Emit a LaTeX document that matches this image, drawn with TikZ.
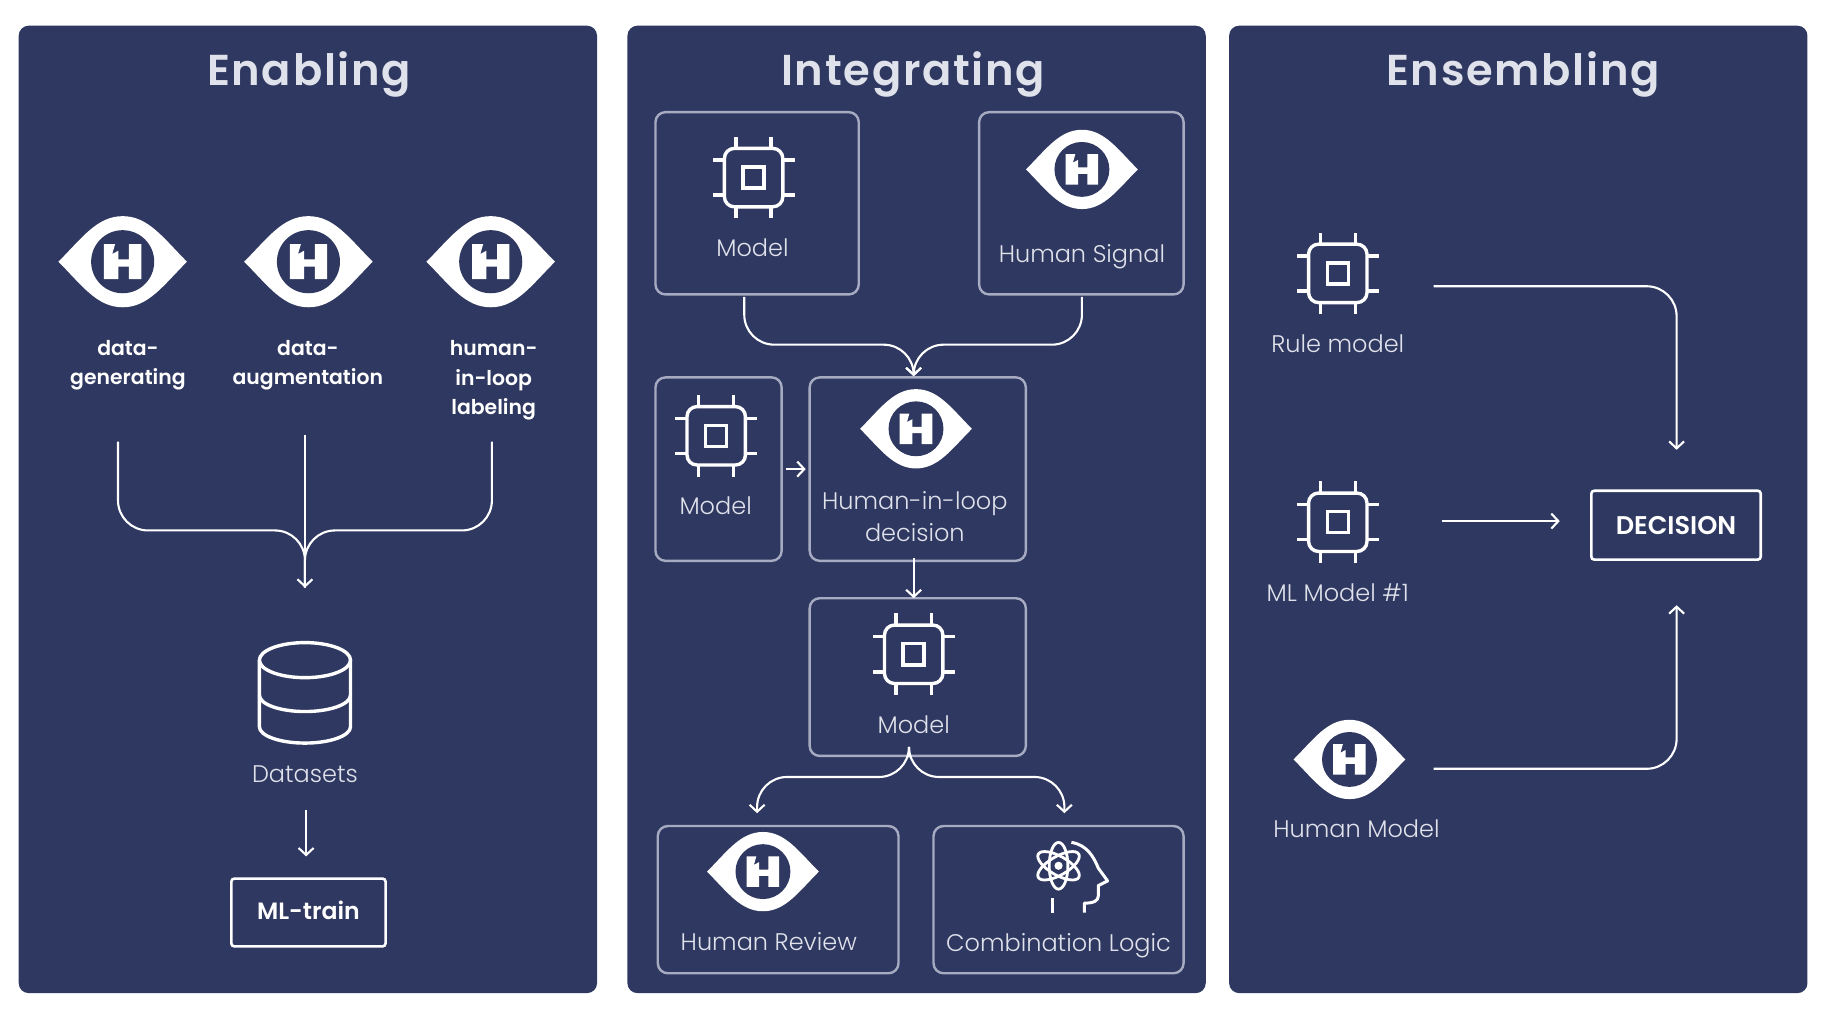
\documentclass[tikz,border=0pt]{standalone}
\usepackage{fontspec}
\usetikzlibrary{arrows.meta}
\setmainfont{Poppins Light}
\newfontfamily\titlefont[LetterSpace=4]{Poppins SemiBold}
\newfontfamily\boldfont{Poppins SemiBold}
\definecolor{panelblue}{HTML}{2F3860}
\definecolor{boxgray}{HTML}{A6ABC1}
\definecolor{labelgray}{HTML}{E0E2EB}
\def\u{0.5842pt}
\tikzset{
  panel/.style={fill=panelblue, rounded corners=5pt, minimum width=495*\u, minimum height=828*\u, inner sep=0, outer sep=0},
  heading/.style={text=labelgray, font=\titlefont\fontsize{21.6}{26}\selectfont},
  modelbox/.style={draw=boxgray, line width=1.2pt, rounded corners=5pt, inner sep=0, outer sep=0},
  whitebox/.style={draw=white, line width=1.3pt, rounded corners=1.5pt, inner sep=0, outer sep=0, text=white},
  label/.style={text=labelgray, font=\fontsize{12}{16}\selectfont, align=center, inner sep=0},
  boldlabel/.style={text=white, font=\boldfont\fontsize{10.2}{14.6}\selectfont, align=center, inner sep=0},
  flow/.style={draw=white, line width=1.05pt, rounded corners=15pt, >={Straight Barb[length=3.5pt,width=7.5pt]}},
  iconline/.style={white, line width=1.7pt},
  eyeicon/.pic={
    \fill[white] (-55,0) .. controls (-35,-20) and (-22,-39) .. (0,-39)
      .. controls (22,-39) and (35,-20) .. (55,0)
      .. controls (35,20) and (22,39) .. (0,39)
      .. controls (-22,39) and (-35,20) .. (-55,0) -- cycle;
    \fill[panelblue] (0,0) circle (27);
    \fill[white] (-16,-15) -- (-6.5,-15) -- (-8.9,-6.6) -- (-3.7,-9.4) -- (-3.7,-2) -- (5.4,-2)
      -- (5.4,-15) -- (16,-15) -- (16,15) -- (5.4,15) -- (5.4,4.3) -- (-3.7,4.3)
      -- (-3.7,15) -- (-16,15) -- cycle;
  },
  chipicon/.pic={
    \draw[iconline, rounded corners=5pt] (-25,-25) rectangle (25,25);
    \draw[iconline] (-9,-9) rectangle (9,9);
    \foreach \p in {-15, 15}{
      \draw[iconline] (\p, -25) -- (\p, -35);
      \draw[iconline] (\p, 25) -- (\p, 35);
      \draw[iconline] (-25, \p) -- (-35, \p);
      \draw[iconline] (25, \p) -- (35, \p);
    };
  },
}
\begin{document}
\begin{tikzpicture}[x=\u, y=-\u]
  \useasboundingbox (0,0) rectangle (1568,871.3);
  % panels
  \node[panel] (enabling) at (263.5,436) {};
  \node[panel] (integrating) at (784.5,436) {};
  \node[panel] (ensembling) at (1299.5,436) {};
  \node[heading] (enablingtitle) at (264.5,64) {Enabling};
  \node[heading] (integratingtitle) at (781.5,64) {Integrating};
  \node[heading] (ensemblingtitle) at (1303.5,64) {Ensembling};

  % left panel
  \foreach \x in {105, 264, 420}
  \pic at (\x,224) {eyeicon};
  \node[boldlabel] (datagen) at (109.5,312.5) {data-\\generating};
  \node[boldlabel] (dataaug) at (263.5,312.5) {data-\\augmentation};
  \node[boldlabel] (humanloop) at (422.5,325.5) {human-\\in-loop\\labeling};
  \coordinate (genout) at (101,378);
  \coordinate (augout) at (261,372);
  \coordinate (loopout) at (421,378);
  \coordinate (joinpt) at (261,454);
  \coordinate (dsin) at (261,503);
  \draw[flow] (genout) |- (joinpt) -- (dsin);
  \draw[flow] (loopout) |- (joinpt) -- (dsin);
  \draw[flow, ->] (augout) -- (dsin);
  \begin{scope}[shift={(261,592)}]
    \draw[iconline] (-39,-27) arc (180:360:39 and -15) arc (0:180:39 and -15);
    \draw[iconline] (-39,-27) -- (-39,30) arc (180:360:39 and -14) -- (39,-27);
    \draw[iconline] (-39,3) arc (180:360:39 and -14);
  \end{scope}
  \node[label] (datasets) at (261,663) {Datasets};
  \node[whitebox, minimum width=132*\u, minimum height=58*\u, text depth=2.4pt, font=\boldfont\fontsize{11.8}{14}\selectfont] (mltrain) at (264,781) {ML-train};
  \coordinate (dsout) at (262,693);
  \draw[flow, ->] (dsout) -- ([xshift=-2*\u, yshift=19*\u]mltrain.north);

  % middle panel
  \node[modelbox, minimum width=174*\u, minimum height=156*\u] (modela) at (648,174) {};
  \node[modelbox, minimum width=175*\u, minimum height=156*\u] (signal) at (925.5,174) {};
  \node[modelbox, minimum width=108*\u, minimum height=157*\u] (modelb) at (615,401.5) {};
  \node[modelbox, minimum width=185*\u, minimum height=157*\u] (loopbox) at (785.5,401.5) {};
  \node[modelbox, minimum width=185*\u, minimum height=135*\u] (modelc) at (785.5,579.5) {};
  \node[modelbox, minimum width=206*\u, minimum height=126*\u] (review) at (666,770) {};
  \node[modelbox, minimum width=214*\u, minimum height=126*\u] (combo) at (906,770) {};
  \pic at (645,152) {chipicon};
  \pic[scale=.87] at (926,145) {eyeicon};
  \pic at (613,373) {chipicon};
  \pic[scale=.87] at (784,367) {eyeicon};
  \pic at (782,560) {chipicon};
  \pic[scale=.87] at (653,746) {eyeicon};
  \node[label] (modelalabel) at (644,212) {Model};
  \node[label] (signallabel) at (926,220) {Human Signal};
  \node[label] (modelblabel) at (612.5,433) {Model};
  \node[label] (looplabel) at (783,442) {Human-in-loop\\decision};
  \node[label] (modelclabel) at (782,620) {Model};
  \node[label] (reviewlabel) at (658,806) {Human Review};
  \node[label] (combolabel) at (906,809) {Combination Logic};
  % head with atom
  \foreach \a in {90, 30, -30}
  \draw[white, line width=1.4pt, rotate around={\a:(906,741)}] (906,741) ellipse (20 and 8);
  \fill[white] (906,741) circle (3.5);
  \draw[white, line width=1.5pt, line join=round] (917,721) .. controls (930,723) and (936,733) .. (940,743)
    -- (948,754) -- (940,758) -- (940,767) .. controls (940,771) and (936,773) .. (928,773) -- (928,781);
  \draw[white, line width=1.5pt] (901,769) -- (901,781);
  \coordinate (modelaout) at (637,254);
  \coordinate (signalout) at (926,254);
  \coordinate (loopin) at (782,322);
  \coordinate (mergea) at (782,295);
  \draw[flow, ->] (modelaout) |- (mergea) -- (loopin);
  \draw[flow, ->] (signalout) |- (mergea) -- (loopin);
  \draw[flow, ->, shorten <=2.2pt, shorten >=2pt] (modelb) -- (loopbox);
  \draw[flow, ->] ([xshift=-3.5*\u, yshift=2*\u]loopbox.south) -- ([xshift=-3.5*\u]modelc.north);
  \coordinate (modelcout) at (778,648);
  \coordinate (splitpt) at (778,665);
  \coordinate (reviewin) at (648,696);
  \coordinate (comboin) at (911,696);
  \draw[flow, ->] (modelcout) -- (splitpt) -| (reviewin);
  \draw[flow, ->] (modelcout) -- (splitpt) -| (comboin);

  % right panel
  \pic at (1145,234) {chipicon};
  \pic at (1145,447) {chipicon};
  \pic[scale=.87] at (1155,650) {eyeicon};
  \node[label] (rulelabel) at (1145,294) {Rule model};
  \node[label] (mllabel) at (1145,507) {ML Model \#1};
  \node[label] (humanlabel) at (1161,709) {Human Model};
  \node[whitebox, minimum width=145*\u, minimum height=59*\u, font=\boldfont\fontsize{12.8}{14}\selectfont] (decision) at (1434.5,449.5) {DECISION};
  \coordinate (ruleout) at (1227,245);
  \coordinate (ruletop) at (1435,385);
  \coordinate (mlout) at (1234,446);
  \coordinate (mlin) at (1335,446);
  \coordinate (humanout) at (1227,658);
  \coordinate (humanin) at (1435,518);
  \draw[flow, ->] (ruleout) -| (ruletop);
  \draw[flow, ->] (mlout) -- (mlin);
  \draw[flow, ->] (humanout) -| (humanin);
\end{tikzpicture}
\end{document}
